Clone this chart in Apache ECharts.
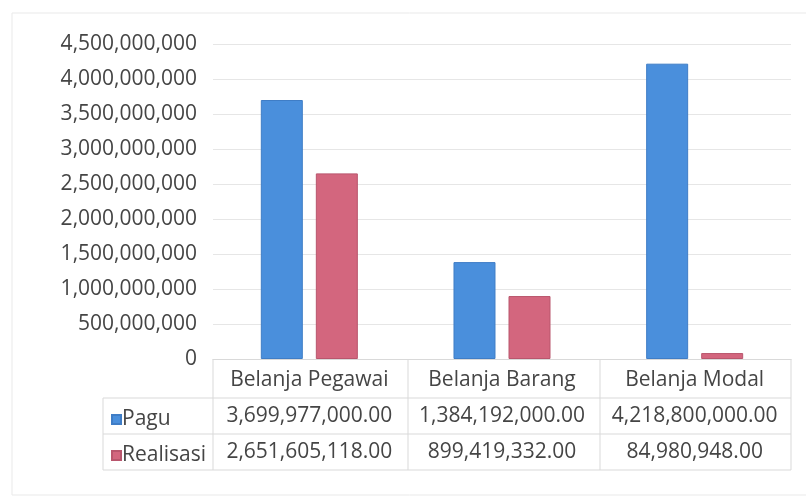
<!DOCTYPE html>
<html>
<head>
<meta charset="utf-8">
<script src="https://cdn.jsdelivr.net/npm/echarts@6/dist/echarts.min.js"></script>
<style>
  html, body { margin: 0; padding: 0; background: #fff; }
  #chart { width: 806px; height: 498px; }
</style>
</head>
<body>
<div id="chart"></div>
<script>
const categories = ['Belanja Pegawai', 'Belanja Barang', 'Belanja Modal'];
const pagu = [3699977000, 1384192000, 4218800000];
const realisasi = [2651605118, 899419332, 84980948];
const seriesNames = ['Pagu', 'Realisasi'];
const yTicks = { min: 0, max: 4500000000, interval: 500000000 };

const textColor = '#454545';
const lineColor = '#d9d9d9';
const font = '"Open Sans", sans-serif';

const fmtInt = v => Number(v).toLocaleString('en-US');
const fmtMoney = v => Number(v).toLocaleString('en-US', { minimumFractionDigits: 2, maximumFractionDigits: 2 });

// grid edges (the table below is laid out against them)
const gLeft = 213, gRight = 791, gBottomY = 359;
const tableLeft = 103;
const rowLines = [398, 434, 470];
const colLines = [213, 408, 600, 791];

const chart = echarts.init(document.getElementById('chart'));

const tableGraphics = [];
rowLines.forEach(y => {
  tableGraphics.push({ type: 'line', shape: { x1: tableLeft, y1: y, x2: gRight, y2: y }, style: { stroke: lineColor, lineWidth: 1 } });
});
colLines.forEach(x => {
  tableGraphics.push({ type: 'line', shape: { x1: x, y1: gBottomY, x2: x, y2: rowLines[2] }, style: { stroke: lineColor, lineWidth: 1 } });
});
tableGraphics.push({ type: 'line', shape: { x1: tableLeft, y1: rowLines[0], x2: tableLeft, y2: rowLines[2] }, style: { stroke: lineColor, lineWidth: 1 } });
// chart frame
tableGraphics.push({ type: 'rect', shape: { x: 12, y: 13, width: 800, height: 482 }, style: { fill: 'none', stroke: '#e9e9e9', lineWidth: 1 }, z: -1 });

function tableAxis(values, offset) {
  return {
    type: 'category',
    data: categories,
    position: 'bottom',
    offset: offset,
    axisLine: { show: false },
    axisTick: { show: false },
    axisLabel: {
      margin: 11,
      color: textColor,
      fontFamily: font,
      fontSize: 21,
      interval: 0,
      formatter: (v, i) => fmtMoney(values[i])
    }
  };
}

const option = {
  backgroundColor: '#fff',
  animation: false,
  grid: { left: gLeft, right: 806 - gRight, top: 44, bottom: 498 - gBottomY, containLabel: false },
  legend: {
    data: seriesNames,
    orient: 'vertical',
    left: 106,
    top: 404,
    itemWidth: 9,
    itemHeight: 9,
    itemGap: 15,
    icon: 'rect',
    textStyle: { color: textColor, fontFamily: font, fontSize: 21, padding: [0, 0, 0, -4] }
  },
  xAxis: [
    {
      type: 'category',
      data: categories,
      axisLine: { show: true, lineStyle: { color: lineColor } },
      axisTick: { show: false },
      axisLabel: { margin: 11, color: textColor, fontFamily: font, fontSize: 21, interval: 0 }
    },
    tableAxis(pagu, 36),
    tableAxis(realisasi, 72)
  ],
  yAxis: {
    type: 'value',
    min: yTicks.min,
    max: yTicks.max,
    interval: yTicks.interval,
    axisLine: { show: false },
    axisTick: { show: false },
    splitLine: { lineStyle: { color: '#e6e6e6' } },
    axisLabel: { margin: 16, color: textColor, fontFamily: font, fontSize: 21, formatter: v => fmtInt(v) }
  },
  series: [
    {
      name: seriesNames[0],
      type: 'bar',
      data: pagu,
      barWidth: 42,
      barGap: '31%',
      itemStyle: { color: '#4a8fdc', borderColor: '#3f7dc6', borderWidth: 1 }
    },
    {
      name: seriesNames[1],
      type: 'bar',
      data: realisasi,
      barWidth: 42,
      itemStyle: { color: '#d3667e', borderColor: '#b9566d', borderWidth: 1 }
    }
  ],
  graphic: tableGraphics
};

chart.setOption(option);
</script>
</body>
</html>
